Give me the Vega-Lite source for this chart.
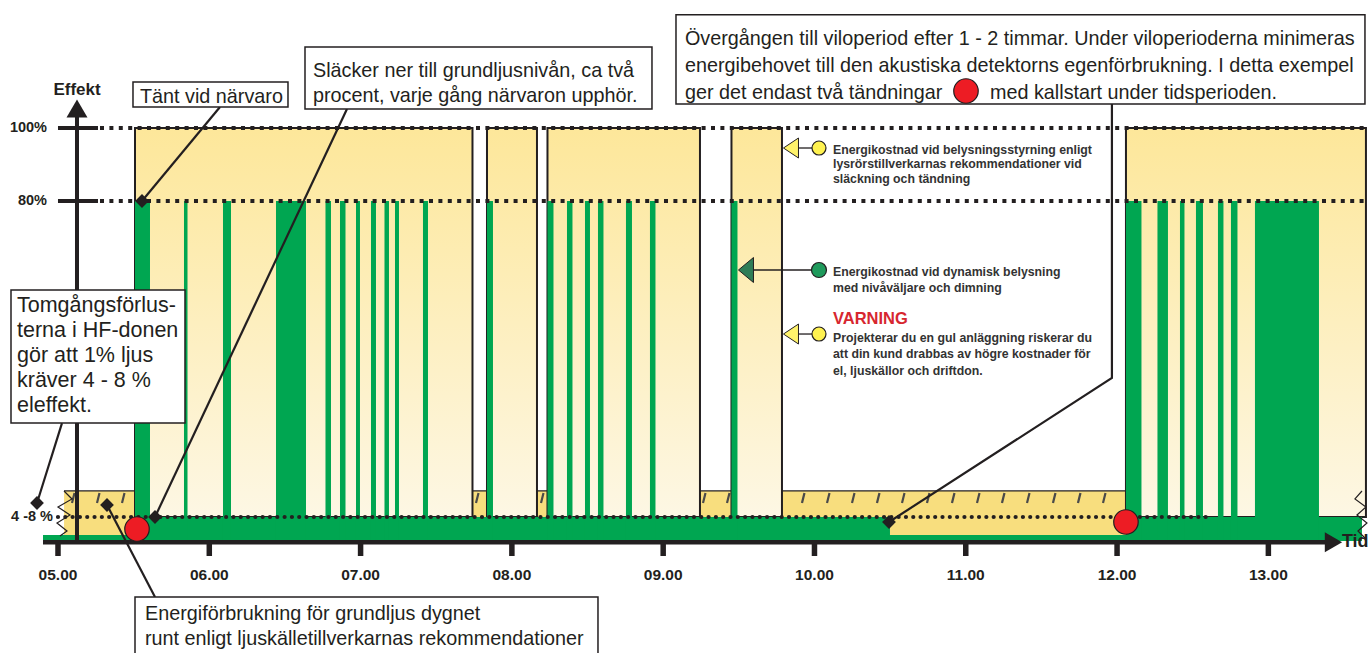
{
  "$schema": "https://vega.github.io/schema/vega-lite/v6.json",
  "width": 1371,
  "height": 653,
  "padding": 0,
  "autosize": {"type": "none"},
  "config": {"view": {"stroke": null}},
  "datasets": {
    "gulband": [{"h": 5.04, "h2": 13.6187, "v": 1.5, "v2": 12.1}],
    "gulkant": [{"h": 5.04, "h2": 13.6187, "v": 12.1}],
    "streck": [
      {"h": 5.0925, "h2": 5.109, "v": 9.28, "v2": 11.62},
      {"h": 5.2578, "h2": 5.2743, "v": 9.28, "v2": 11.62},
      {"h": 5.423, "h2": 5.4395, "v": 9.28, "v2": 11.62},
      {"h": 7.7627, "h2": 7.7792, "v": 9.28, "v2": 11.62},
      {"h": 8.1924, "h2": 8.2089, "v": 9.28, "v2": 11.62},
      {"h": 9.2631, "h2": 9.2796, "v": 9.28, "v2": 11.62},
      {"h": 9.4217, "h2": 9.4382, "v": 9.28, "v2": 11.62},
      {"h": 9.9174, "h2": 9.9339, "v": 9.28, "v2": 11.62},
      {"h": 10.0827, "h2": 10.0992, "v": 9.28, "v2": 11.62},
      {"h": 10.2479, "h2": 10.2644, "v": 9.28, "v2": 11.62},
      {"h": 10.4131, "h2": 10.4296, "v": 9.28, "v2": 11.62},
      {"h": 10.5784, "h2": 10.5949, "v": 9.28, "v2": 11.62},
      {"h": 10.7436, "h2": 10.7601, "v": 9.28, "v2": 11.62},
      {"h": 10.9088, "h2": 10.9253, "v": 9.28, "v2": 11.62},
      {"h": 11.0741, "h2": 11.0906, "v": 9.28, "v2": 11.62},
      {"h": 11.2393, "h2": 11.2558, "v": 9.28, "v2": 11.62},
      {"h": 11.4046, "h2": 11.4211, "v": 9.28, "v2": 11.62},
      {"h": 11.5764, "h2": 11.5929, "v": 9.28, "v2": 11.62},
      {"h": 11.7416, "h2": 11.7581, "v": 9.28, "v2": 11.62},
      {"h": 11.9069, "h2": 11.9234, "v": 9.28, "v2": 11.62}
    ],
    "block": [
      {"h": 5.509, "h2": 7.7396, "v": 6, "v2": 100},
      {"h": 7.8355, "h2": 8.1659, "v": 6, "v2": 100},
      {"h": 8.2353, "h2": 9.2432, "v": 6, "v2": 100},
      {"h": 9.4514, "h2": 9.7852, "v": 6, "v2": 100},
      {"h": 12.0588, "h2": 13.645, "v": 6, "v2": 100}
    ],
    "gronband": [
      {"h": 5.509, "h2": 10.499, "v": 0, "v2": 6},
      {"h": 12.072, "h2": 13.6187, "v": 0, "v2": 6},
      {"h": 4.9009, "h2": 13.6187, "v": 0, "v2": 1.5}
    ],
    "gronstaplar": [
      {"h": 5.509, "h2": 5.6081, "v": 0, "v2": 80},
      {"h": 5.8328, "h2": 5.856, "v": 0, "v2": 80},
      {"h": 6.0906, "h2": 6.1435, "v": 0, "v2": 80},
      {"h": 6.4409, "h2": 6.6392, "v": 0, "v2": 80},
      {"h": 6.768, "h2": 6.8044, "v": 0, "v2": 80},
      {"h": 6.8639, "h2": 6.9003, "v": 0, "v2": 80},
      {"h": 6.9697, "h2": 6.996, "v": 0, "v2": 80},
      {"h": 7.0688, "h2": 7.1018, "v": 0, "v2": 80},
      {"h": 7.158, "h2": 7.1877, "v": 0, "v2": 80},
      {"h": 7.2274, "h2": 7.2538, "v": 0, "v2": 80},
      {"h": 7.4124, "h2": 7.4455, "v": 0, "v2": 80},
      {"h": 7.8355, "h2": 7.8751, "v": 0, "v2": 80},
      {"h": 8.2353, "h2": 8.275, "v": 0, "v2": 80},
      {"h": 8.3642, "h2": 8.4005, "v": 0, "v2": 80},
      {"h": 8.4832, "h2": 8.5162, "v": 0, "v2": 80},
      {"h": 8.5691, "h2": 8.6054, "v": 0, "v2": 80},
      {"h": 8.7541, "h2": 8.7938, "v": 0, "v2": 80},
      {"h": 8.9127, "h2": 8.9491, "v": 0, "v2": 80},
      {"h": 9.4514, "h2": 9.4911, "v": 0, "v2": 80},
      {"h": 12.0588, "h2": 12.1613, "v": 0, "v2": 80},
      {"h": 12.267, "h2": 12.3364, "v": 0, "v2": 80},
      {"h": 12.4158, "h2": 12.4455, "v": 0, "v2": 80},
      {"h": 12.5215, "h2": 12.5678, "v": 0, "v2": 80},
      {"h": 12.6669, "h2": 12.7032, "v": 0, "v2": 80},
      {"h": 12.7528, "h2": 12.7958, "v": 0, "v2": 80},
      {"h": 12.9114, "h2": 13.3345, "v": 0, "v2": 80}
    ],
    "nivaer": [
      {"h": 5.2776, "h2": 13.6385, "v": 100},
      {"h": 5.2776, "h2": 13.6385, "v": 80}
    ],
    "grundniva": [{"h": 5.0, "h2": 12.614, "v": 6}],
    "yaxel": [{"h": 5.1256, "v": 0, "v2": 103.6}],
    "ystreck": [
      {"h": 5.0, "h2": 5.2644, "v": 100},
      {"h": 5.0, "h2": 5.2644, "v": 80}
    ],
    "xaxel": [{"h": 4.9009, "h2": 13.41, "v": -0.3}],
    "xstreck": [
      {"h": 5, "v": -0.75, "v2": -3.75},
      {"h": 6, "v": -0.75, "v2": -3.75},
      {"h": 7, "v": -0.75, "v2": -3.75},
      {"h": 8, "v": -0.75, "v2": -3.75},
      {"h": 9, "v": -0.75, "v2": -3.75},
      {"h": 10, "v": -0.75, "v2": -3.75},
      {"h": 11, "v": -0.75, "v2": -3.75},
      {"h": 12, "v": -0.75, "v2": -3.75},
      {"h": 13, "v": -0.75, "v2": -3.75}
    ],
    "pilupp": [{"h": 5.1256, "v": 105.34}],
    "pilhoger": [{"h": 13.4303, "v": -0.3}],
    "sicksack": [
      {"id": "v", "i": 0, "h": 5.0397, "v": 12.09},
      {"id": "v", "i": 1, "h": 5.0925, "v": 10.22},
      {"id": "v", "i": 2, "h": 5.0, "v": 8.34},
      {"id": "v", "i": 3, "h": 5.0793, "v": 6.47},
      {"id": "v", "i": 4, "h": 4.9934, "v": 4.5},
      {"id": "v", "i": 5, "h": 5.0595, "v": 2.5},
      {"id": "v", "i": 6, "h": 5.0132, "v": 1.25},
      {"id": "r", "i": 0, "h": 13.6187, "v": 12.09},
      {"id": "r", "i": 1, "h": 13.5724, "v": 10.22},
      {"id": "r", "i": 2, "h": 13.6451, "v": 8.34},
      {"id": "r", "i": 3, "h": 13.5856, "v": 6.47},
      {"id": "r", "i": 4, "h": 13.6517, "v": 4.5},
      {"id": "r", "i": 5, "h": 13.5922, "v": 2.5},
      {"id": "r", "i": 6, "h": 13.6451, "v": 0.5}
    ],
    "ledare": [
      {"id": "a", "i": 0, "h": 6.0707, "v": 105.75},
      {"id": "a", "i": 1, "h": 5.5552, "v": 80},
      {"id": "b", "i": 0, "h": 6.9101, "v": 105.21},
      {"id": "b", "i": 1, "h": 5.6411, "v": 6},
      {"id": "c", "i": 0, "h": 11.966, "v": 106.58},
      {"id": "c", "i": 1, "h": 11.966, "v": 38.55},
      {"id": "c", "i": 2, "h": 10.4925, "v": 4.75},
      {"id": "d", "i": 0, "h": 5.6411, "v": -14},
      {"id": "d", "i": 1, "h": 5.3239, "v": 8.81},
      {"id": "e", "i": 0, "h": 5.0264, "v": 28.0},
      {"id": "e", "i": 1, "h": 4.8612, "v": 9.28}
    ],
    "romber": [
      {"h": 5.5552, "v": 80},
      {"h": 5.6411, "v": 6},
      {"h": 10.4925, "v": 4.75},
      {"h": 5.3239, "v": 8.81},
      {"h": 4.8612, "v": 9.28}
    ],
    "rutor": [
      {"h": 5.4957, "h2": 6.5202, "v": 105.75, "v2": 112.6},
      {"h": 6.6326, "h2": 8.926, "v": 105.21, "v2": 122.19},
      {"h": 9.0847, "h2": 13.6385, "v": 106.58, "v2": 131.0},
      {"h": 4.6894, "h2": 5.8394, "v": 28.0, "v2": 59.16},
      {"h": 5.509, "h2": 8.5691, "v": -29, "v2": -14}
    ],
    "roda": [
      {"h": 5.5222, "v": 3.0},
      {"h": 12.0588, "v": 4.75},
      {"h": 11.0014, "v": 110.14}
    ],
    "texter": [
      {"h": 5.5419, "v": 106.85, "t": "Tänt vid närvaro"},
      {"h": 6.6854, "v": 113.97, "t": "Släcker ner till grundljusnivån, ca två"},
      {"h": 6.6854, "v": 107.12, "t": "procent, varje gång närvaron upphör."},
      {"h": 9.1441, "v": 122.74, "t": "Övergången till viloperiod efter 1 - 2 timmar. Under viloperioderna minimeras"},
      {"h": 9.1441, "v": 115.34, "t": "energibehovet till den akustiska detektorns egenförbrukning. I detta exempel"},
      {"h": 9.1441, "v": 107.95, "t": "ger det endast två tändningar"},
      {"h": 11.16, "v": 107.95, "t": "med kallstart under tidsperioden."},
      {"h": 5.575, "v": -19.75, "t": "Energiförbrukning för grundljus dygnet"},
      {"h": 5.575, "v": -26, "t": "runt enligt ljuskälletillverkarnas rekommendationer"}
    ],
    "vanster": [
      {"h": 4.729, "v": 54.01, "t": "Tomgångsförlus-"},
      {"h": 4.729, "v": 48.15, "t": "terna i HF-donen"},
      {"h": 4.729, "v": 42.3, "t": "gör att 1% ljus"},
      {"h": 4.729, "v": 36.44, "t": "kräver 4 - 8 %"},
      {"h": 4.729, "v": 30.59, "t": "eleffekt."}
    ],
    "legendtext": [
      {"h": 10.1222, "v": 92.88, "t": "Energikostnad vid belysningsstyrning enligt"},
      {"h": 10.1222, "v": 89.04, "t": "lysrörstillverkarnas rekommendationer vid"},
      {"h": 10.1222, "v": 84.93, "t": "släckning och tändning"},
      {"h": 10.1222, "v": 62.44, "t": "Energikostnad vid dynamisk belysning"},
      {"h": 10.1222, "v": 58.69, "t": "med nivåväljare och dimning"},
      {"h": 10.1222, "v": 46.98, "t": "Projekterar du en gul anläggning riskerar du"},
      {"h": 10.1222, "v": 43.23, "t": "att din kund drabbas av högre kostnader för"},
      {"h": 10.1222, "v": 39.25, "t": "el, ljuskällor och driftdon."}
    ],
    "varning": [{"h": 10.1222, "v": 51.2, "t": "VARNING"}],
    "legendlinjer": [
      {"h": 9.891, "h2": 9.9835, "v": 94.52},
      {"h": 9.891, "h2": 9.9835, "v": 48.85},
      {"h": 9.5936, "h2": 9.9901, "v": 63.84}
    ],
    "gulatri": [{"h": 9.8447, "v": 94.52}, {"h": 9.8447, "v": 48.85}],
    "gronatri": [{"h": 9.5473, "v": 63.84}],
    "gulacirk": [{"h": 10.0298, "v": 94.52}, {"h": 10.0298, "v": 48.85}],
    "gronacirk": [{"h": 10.0298, "v": 63.84}],
    "xetiketter": [
      {"h": 5, "v": -8.5, "t": "05.00"},
      {"h": 6, "v": -8.5, "t": "06.00"},
      {"h": 7, "v": -8.5, "t": "07.00"},
      {"h": 8, "v": -8.5, "t": "08.00"},
      {"h": 9, "v": -8.5, "t": "09.00"},
      {"h": 10, "v": -8.5, "t": "10.00"},
      {"h": 11, "v": -8.5, "t": "11.00"},
      {"h": 12, "v": -8.5, "t": "12.00"},
      {"h": 13, "v": -8.5, "t": "13.00"}
    ],
    "yetiketter": [
      {"h": 4.9273, "v": 100, "t": "100%"},
      {"h": 4.9273, "v": 80, "t": "80%"},
      {"h": 4.967, "v": 6, "t": "4 -8 %"}
    ],
    "effekt": [{"h": 5.1256, "v": 110.4, "t": "Effekt"}],
    "tid": [{"h": 13.4864, "v": -0.3, "t": "Tid"}]
  },
  "encoding": {
    "x": {"field": "h", "type": "quantitative", "axis": null,
      "scale": {"domain": [4.6167, 13.6784], "range": [0, 1371], "nice": false, "zero": false}},
    "y": {"field": "v", "type": "quantitative", "axis": null,
      "scale": {"domain": [-28, 0, 6, 80, 135.07], "range": [653, 541, 517, 201, 0], "nice": false, "zero": false}}
  },
  "layer": [
    {"data": {"name": "gulband"}, "mark": {"type": "rect", "fill": "#f8de7e"},
      "encoding": {"x2": {"field": "h2"}, "y2": {"field": "v2"}}},
    {"data": {"name": "gulkant"}, "mark": {"type": "rule", "color": "#231f20", "strokeWidth": 1.2},
      "encoding": {"x2": {"field": "h2"}}},
    {"data": {"name": "streck"}, "mark": {"type": "rule", "color": "#4a4a4a", "strokeWidth": 2.2},
      "encoding": {"x2": {"field": "h2"}, "y2": {"field": "v2"}}},
    {"data": {"name": "block"},
      "mark": {"type": "rect", "stroke": "#231f20", "strokeWidth": 2,
        "fill": {"gradient": "linear", "x1": 0, "y1": 0, "x2": 0, "y2": 1,
          "stops": [{"offset": 0, "color": "#fde79a"}, {"offset": 1, "color": "#fdf7e4"}]}},
      "encoding": {"x2": {"field": "h2"}, "y2": {"field": "v2"}}},
    {"data": {"name": "gronband"}, "mark": {"type": "rect", "fill": "#00a651"},
      "encoding": {"x2": {"field": "h2"}, "y2": {"field": "v2"}}},
    {"data": {"name": "gronstaplar"}, "mark": {"type": "rect", "fill": "#00a651"},
      "encoding": {"x2": {"field": "h2"}, "y2": {"field": "v2"}}},
    {"data": {"name": "nivaer"}, "mark": {"type": "rule", "color": "#231f20", "strokeWidth": 4, "strokeDash": [4, 5.4]},
      "encoding": {"x2": {"field": "h2"}}},
    {"data": {"name": "grundniva"}, "mark": {"type": "rule", "color": "#231f20", "strokeWidth": 4.2, "strokeCap": "round", "strokeDash": [0.01, 7.3]},
      "encoding": {"x2": {"field": "h2"}}},
    {"data": {"name": "yaxel"}, "mark": {"type": "rule", "color": "#231f20", "strokeWidth": 4},
      "encoding": {"y2": {"field": "v2"}}},
    {"data": {"name": "ystreck"}, "mark": {"type": "rule", "color": "#231f20", "strokeWidth": 4},
      "encoding": {"x2": {"field": "h2"}}},
    {"data": {"name": "xaxel"}, "mark": {"type": "rule", "color": "#231f20", "strokeWidth": 4.5},
      "encoding": {"x2": {"field": "h2"}}},
    {"data": {"name": "xstreck"}, "mark": {"type": "rule", "color": "#231f20", "strokeWidth": 5.5},
      "encoding": {"y2": {"field": "v2"}}},
    {"data": {"name": "pilupp"}, "mark": {"type": "point", "shape": "triangle-up", "size": 440, "filled": true, "color": "#231f20", "opacity": 1}},
    {"data": {"name": "pilhoger"}, "mark": {"type": "point", "shape": "triangle-right", "size": 400, "filled": true, "color": "#231f20", "opacity": 1}},
    {"data": {"name": "sicksack"}, "mark": {"type": "line", "color": "#231f20", "strokeWidth": 1.2},
      "encoding": {"detail": {"field": "id"}, "order": {"field": "i"}}},
    {"data": {"name": "ledare"}, "mark": {"type": "line", "color": "#231f20", "strokeWidth": 2.2},
      "encoding": {"detail": {"field": "id"}, "order": {"field": "i"}}},
    {"data": {"name": "romber"}, "mark": {"type": "point", "shape": "diamond", "size": 190, "filled": true, "color": "#231f20", "opacity": 1}},
    {"data": {"name": "rutor"}, "mark": {"type": "rect", "fill": "#ffffff", "stroke": "#231f20", "strokeWidth": 1.5},
      "encoding": {"x2": {"field": "h2"}, "y2": {"field": "v2"}}},
    {"data": {"name": "roda"}, "mark": {"type": "point", "shape": "circle", "size": 600, "filled": true, "fill": "#ed1c24", "stroke": "#231f20", "strokeWidth": 1.2, "opacity": 1}},
    {"data": {"name": "texter"}, "mark": {"type": "text", "align": "left", "baseline": "alphabetic", "font": "Liberation Sans", "fontSize": 19.8, "color": "#231f20"},
      "encoding": {"text": {"field": "t"}}},
    {"data": {"name": "vanster"}, "mark": {"type": "text", "align": "left", "baseline": "alphabetic", "font": "Liberation Sans", "fontSize": 21.5, "color": "#231f20"},
      "encoding": {"text": {"field": "t"}}},
    {"data": {"name": "legendtext"}, "mark": {"type": "text", "align": "left", "baseline": "alphabetic", "font": "Liberation Sans", "fontWeight": "bold", "fontSize": 12.3, "color": "#333333"},
      "encoding": {"text": {"field": "t"}}},
    {"data": {"name": "varning"}, "mark": {"type": "text", "align": "left", "baseline": "alphabetic", "font": "Liberation Sans", "fontWeight": "bold", "fontSize": 16.5, "color": "#d7262f"},
      "encoding": {"text": {"field": "t"}}},
    {"data": {"name": "legendlinjer"}, "mark": {"type": "rule", "color": "#231f20", "strokeWidth": 1.3},
      "encoding": {"x2": {"field": "h2"}}},
    {"data": {"name": "gulatri"}, "mark": {"type": "point", "shape": "M0.75,-1L-0.75,0L0.75,1Z", "size": 400, "filled": true, "fill": "#fff36b", "stroke": "#231f20", "strokeWidth": 1, "opacity": 1}},
    {"data": {"name": "gronatri"}, "mark": {"type": "point", "shape": "M0.6,-1L-0.6,0L0.6,1Z", "size": 625, "filled": true, "fill": "#2e7d57", "stroke": "#231f20", "strokeWidth": 1, "opacity": 1}},
    {"data": {"name": "gulacirk"}, "mark": {"type": "point", "shape": "circle", "size": 196, "filled": true, "fill": "#fff250", "stroke": "#231f20", "strokeWidth": 1.2, "opacity": 1}},
    {"data": {"name": "gronacirk"}, "mark": {"type": "point", "shape": "circle", "size": 225, "filled": true, "fill": "#1f9a5c", "stroke": "#231f20", "strokeWidth": 1.2, "opacity": 1}},
    {"data": {"name": "xetiketter"}, "mark": {"type": "text", "align": "center", "baseline": "middle", "font": "Liberation Sans", "fontWeight": "bold", "fontSize": 15.5, "color": "#231f20"},
      "encoding": {"text": {"field": "t"}}},
    {"data": {"name": "yetiketter"}, "mark": {"type": "text", "align": "right", "baseline": "middle", "font": "Liberation Sans", "fontWeight": "bold", "fontSize": 14.5, "color": "#231f20"},
      "encoding": {"text": {"field": "t"}}},
    {"data": {"name": "effekt"}, "mark": {"type": "text", "align": "center", "baseline": "middle", "font": "Liberation Sans", "fontWeight": "bold", "fontSize": 17, "color": "#231f20"},
      "encoding": {"text": {"field": "t"}}},
    {"data": {"name": "tid"}, "mark": {"type": "text", "align": "left", "baseline": "middle", "font": "Liberation Sans", "fontWeight": "bold", "fontSize": 18, "color": "#231f20"},
      "encoding": {"text": {"field": "t"}}}
  ]
}
